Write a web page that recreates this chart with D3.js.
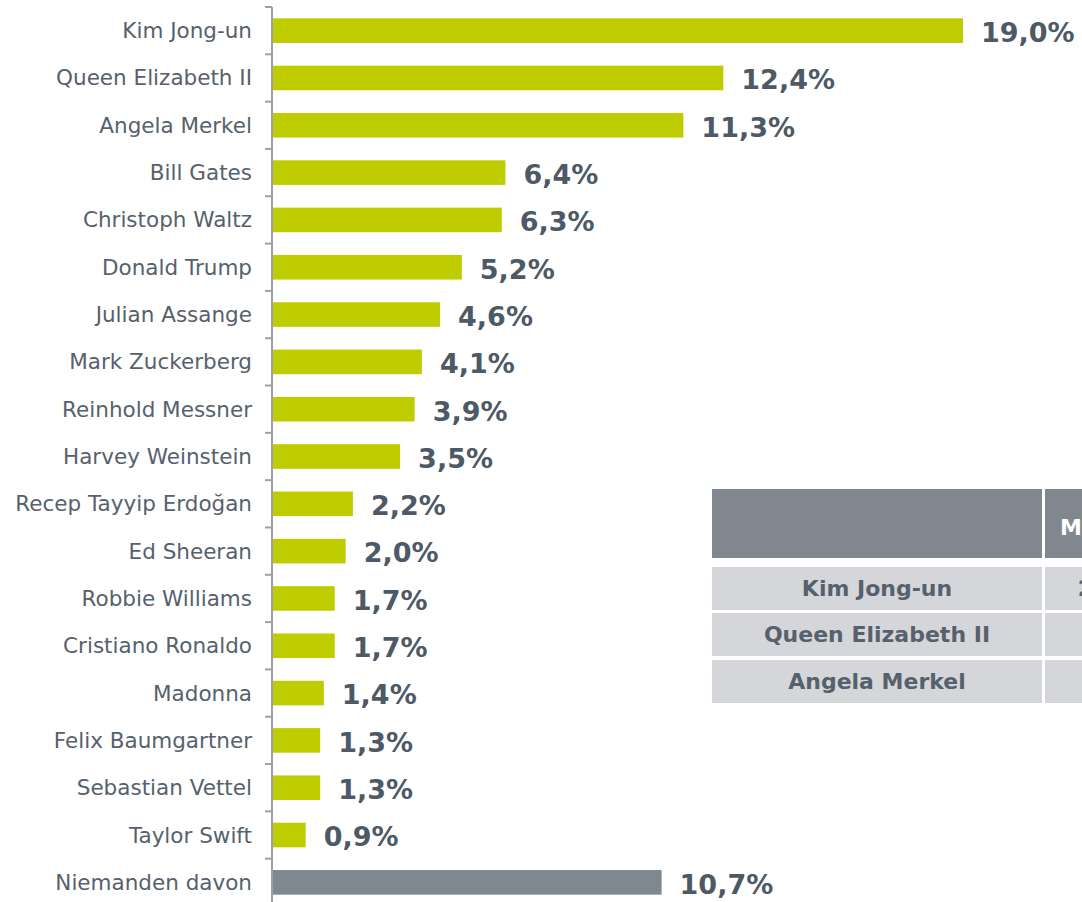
<!DOCTYPE html>
<html>
<head>
<meta charset="utf-8">
<script src="https://d3js.org/d3.v7.min.js"></script>
<style>
  body { margin: 0; background: #ffffff; }
  svg { display: block; }
</style>
</head>
<body>
<svg id="drawing_region"></svg>
<script>
// bar chart data
const names = [
    "Kim Jong-un", "Queen Elizabeth II", "Angela Merkel", "Bill Gates",
    "Christoph Waltz", "Donald Trump", "Julian Assange", "Mark Zuckerberg",
    "Reinhold Messner", "Harvey Weinstein", "Recep Tayyip Erdoğan", "Ed Sheeran",
    "Robbie Williams", "Cristiano Ronaldo", "Madonna", "Felix Baumgartner",
    "Sebastian Vettel", "Taylor Swift", "Niemanden davon"
];
const values = [19.0, 12.4, 11.3, 6.4, 6.3, 5.2, 4.6, 4.1, 3.9, 3.5, 2.2, 2.0, 1.7, 1.7, 1.4, 1.3, 1.3, 0.9, 10.7];
const otherName = "Niemanden davon";

// overlay table (cut off at the right edge)
const tableHeader = ["", "Männlich"];
const tableNames = ["Kim Jong-un", "Queen Elizabeth II", "Angela Merkel"];
const tableValues = ["21,0%", "9,8%", "9,5%"];

const fmt = v => v.toFixed(1).replace('.', ',') + '%';

class BarChart {
    constructor(config) {
        this.config = config;
        this.init();
    }

    init() {
        let self = this;
        self.svg = d3.select(self.config.parent)
            .attr('width', self.config.width)
            .attr('height', self.config.height);

        self.xscale = d3.scaleLinear()
            .domain([0, d3.max(values)])
            .range([273, 963]);

        self.yscale = d3.scaleBand()
            .domain(names)
            .range([7, 906])
            .paddingInner(0.48)
            .paddingOuter(0.24);
    }

    render() {
        let self = this;
        const y = self.yscale, x = self.xscale;

        // bars
        self.svg.append('g').selectAll('rect')
            .data(names)
            .join('rect')
            .attr('x', x(0))
            .attr('y', d => y(d))
            .attr('width', (d, i) => x(values[i]) - x(0))
            .attr('height', y.bandwidth())
            .attr('fill', d => d === otherName ? '#7f8790' : '#bfcd00');

        // axis line + ticks between bands
        const axis = self.svg.append('g').attr('stroke', '#9ba1a9').attr('stroke-width', 2);
        axis.append('line')
            .attr('x1', 272).attr('x2', 272)
            .attr('y1', y.range()[0]).attr('y2', y.range()[1]);
        axis.selectAll('line.tick')
            .data(d3.range(names.length + 1))
            .join('line')
            .attr('class', 'tick')
            .attr('x1', 265).attr('x2', 272)
            .attr('y1', i => y.range()[0] + i * y.step())
            .attr('y2', i => y.range()[0] + i * y.step());

        // category labels
        self.svg.append('g').selectAll('text')
            .data(names)
            .join('text')
            .attr('x', 252)
            .attr('y', d => y(d) + y.bandwidth() / 2)
            .attr('dy', '0.35em')
            .attr('text-anchor', 'end')
            .attr('font-family', 'DejaVu Sans, Verdana, sans-serif')
            .attr('font-size', '21.5px')
            .attr('fill', '#56616d')
            .text(d => d);

        // value labels
        self.svg.append('g').selectAll('text')
            .data(names)
            .join('text')
            .attr('x', (d, i) => x(values[i]) + 18)
            .attr('y', d => y(d) + y.bandwidth() / 2)
            .attr('dy', '0.42em')
            .attr('font-family', 'DejaVu Sans, Verdana, sans-serif')
            .attr('font-weight', 'bold')
            .attr('font-size', '27px')
            .attr('fill', '#4e5966')
            .text((d, i) => fmt(values[i]));
    }

    renderTable() {
        let self = this;
        const g = self.svg.append('g');
        const col1 = {x: 712, w: 330};
        const col2 = {x: 1045, w: 144};
        const font = 'DejaVu Sans, Verdana, sans-serif';

        // header
        g.append('rect').attr('x', col1.x).attr('y', 489).attr('width', col1.w).attr('height', 69).attr('fill', '#80878f');
        g.append('rect').attr('x', col2.x).attr('y', 489).attr('width', col2.w).attr('height', 69).attr('fill', '#80878f');
        g.append('text')
            .attr('x', col2.x + col2.w / 2 - 1)
            .attr('y', 535)
            .attr('text-anchor', 'middle')
            .attr('font-family', font).attr('font-weight', 'bold').attr('font-size', '22px')
            .attr('fill', '#ffffff')
            .text(tableHeader[1]);

        const rowY = [567, 613, 660];
        const rowH = 43;
        tableNames.forEach((name, i) => {
            g.append('rect').attr('x', col1.x).attr('y', rowY[i]).attr('width', col1.w).attr('height', rowH).attr('fill', '#d5d6d9');
            g.append('rect').attr('x', col2.x).attr('y', rowY[i]).attr('width', col2.w).attr('height', rowH).attr('fill', '#d5d6d9');
            g.append('text')
                .attr('x', col1.x + col1.w / 2)
                .attr('y', rowY[i] + rowH / 2)
                .attr('dy', '0.35em')
                .attr('text-anchor', 'middle')
                .attr('font-family', font).attr('font-weight', 'bold').attr('font-size', '22px')
                .attr('fill', '#56616d')
                .text(name);
            g.append('text')
                .attr('x', col2.x + col2.w / 2 - 1)
                .attr('y', rowY[i] + rowH / 2)
                .attr('dy', '0.35em')
                .attr('text-anchor', 'middle')
                .attr('font-family', font).attr('font-weight', 'bold').attr('font-size', '22px')
                .attr('fill', '#56616d')
                .text(tableValues[i]);
        });
    }
}

const chart = new BarChart({parent: '#drawing_region', width: 1082, height: 902});
chart.render();
chart.renderTable();
</script>
</body>
</html>
